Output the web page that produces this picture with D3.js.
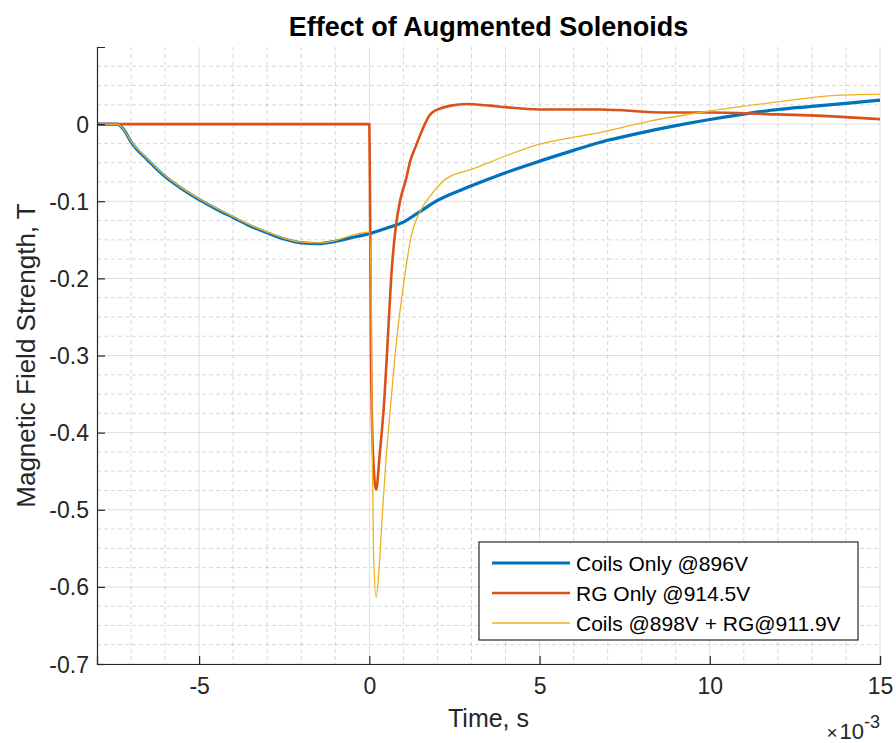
<!DOCTYPE html>
<meta charset="utf-8">
<style>
  body { margin: 0; background: #fff; }
  svg { display: block; font-family: "Liberation Sans", Arial, sans-serif; }
  .grid-major { stroke: #262626; stroke-opacity: 0.15; }
  .grid-minor { stroke: #262626; stroke-opacity: 0.18; stroke-dasharray: 4,3; }
  .curve { fill: none; stroke-linejoin: round; }
</style>
<svg width="896" height="743"></svg>
<script src="https://cdn.jsdelivr.net/npm/d3@7"></script>
<script>
  // time in ms (axis carries the x10^-3 factor), field in T
  var coilsT = [-8, -7.4, -7.2, -7.0, -6.5, -6.0, -5.5, -5.0, -4.5, -4.0, -3.5, -3.0, -2.5, -2.0, -1.5, -1.0, -0.5, 0,
    0.5, 1.0, 1.5, 2.0, 3.0, 4.0, 5.0, 6.0, 7.0, 8.0, 9.0, 10, 11, 12, 13, 14, 15];
  var coilsB = [0, 0, -0.008, -0.023, -0.047, -0.068, -0.084, -0.098, -0.110, -0.121, -0.132, -0.141, -0.149, -0.154, -0.155, -0.152, -0.147, -0.142,
    -0.135, -0.127, -0.113, -0.099, -0.080, -0.063, -0.048, -0.034, -0.021, -0.011, -0.002, 0.006, 0.013, 0.019, 0.023, 0.027, 0.031];

  var rgT = [-8, 0, 0.02, 0.05, 0.1, 0.2, 0.3, 0.44, 0.54, 0.64, 0.78, 0.9, 1.08, 1.2, 1.37, 1.57, 1.76, 1.91, 2.06, 2.4, 2.84,
    3.53, 4.0, 5.0, 6.76, 8.73, 10, 11.67, 13.6, 15];
  var rgB = [0, 0, -0.1, -0.3, -0.42, -0.474, -0.43, -0.357, -0.28, -0.2, -0.132, -0.1, -0.071, -0.048, -0.028, -0.006, 0.011, 0.017, 0.020, 0.024, 0.026,
    0.024, 0.022, 0.019, 0.019, 0.015, 0.015, 0.013, 0.010, 0.0065];

  var bothT = [-8, -7.4, -7.2, -7.0, -6.5, -6.0, -5.5, -5.0, -4.5, -4.0, -3.5, -3.0, -2.5, -2.0, -1.5, -1.0, -0.5, -0.2, 0,
    0.05, 0.08, 0.12, 0.2, 0.28, 0.39, 0.49, 0.64, 0.8, 1.03, 1.23, 1.47, 1.86, 2.25, 3.04, 4.02, 5.0, 6.0, 6.76, 8.24, 10, 11.67, 13.6, 15];
  var bothB = [0, 0, -0.008, -0.022, -0.046, -0.067, -0.083, -0.097, -0.109, -0.120, -0.131, -0.140, -0.148, -0.153, -0.154, -0.151, -0.144, -0.141, -0.140,
    -0.2, -0.4, -0.55, -0.614, -0.58, -0.5, -0.435, -0.357, -0.28, -0.2, -0.145, -0.115, -0.089, -0.071, -0.058, -0.041, -0.026, -0.017, -0.011, 0.004, 0.017, 0.027, 0.037, 0.039];

  var seriesNames = ["Coils Only @896V", "RG Only @914.5V", "Coils @898V + RG@911.9V"];
  var seriesColors = ["#0072BD", "#D95319", "#EDB120"];
  var seriesWidths = [3.2, 2.6, 1.3];

  var xMajor = [-5, 0, 5, 10, 15];
  var yMajor = [0, -0.1, -0.2, -0.3, -0.4, -0.5, -0.6, -0.7];

  var svg = d3.select("svg");
  var margin = { top: 47, right: 16, bottom: 79, left: 97 };
  var width = 896 - margin.left - margin.right;
  var height = 743 - margin.top - margin.bottom;
  var g = svg.append("g").attr("transform", "translate(" + margin.left + "," + margin.top + ")");

  var x = d3.scaleLinear().domain([-8, 15]).range([0, width]);
  var y = d3.scaleLinear().domain([-0.7, 0.1]).range([height, 0]);

  // plain hyphen minus, like the original figure
  var fmt = d3.formatLocale({ decimal: ".", thousands: ",", grouping: [3], currency: ["", ""], minus: "-" });

  // minor grid
  g.append("g").selectAll("line")
    .data(d3.range(-7, 15, 1).filter(function(d) { return d % 5 !== 0; }))
    .enter().append("line")
    .attr("class", "grid-minor")
    .attr("x1", x).attr("x2", x)
    .attr("y1", 0).attr("y2", height);
  g.append("g").selectAll("line")
    .data(d3.range(-0.675, 0.1, 0.025).filter(function(d) { return Math.abs(Math.round(d * 40) % 4) !== 0; }))
    .enter().append("line")
    .attr("class", "grid-minor")
    .attr("y1", y).attr("y2", y)
    .attr("x1", 0).attr("x2", width);

  // major grid
  g.append("g").selectAll("line")
    .data(xMajor)
    .enter().append("line")
    .attr("class", "grid-major")
    .attr("x1", x).attr("x2", x)
    .attr("y1", 0).attr("y2", height);
  g.append("g").selectAll("line")
    .data(yMajor)
    .enter().append("line")
    .attr("class", "grid-major")
    .attr("y1", y).attr("y2", y)
    .attr("x1", 0).attr("x2", width);

  // curves
  var line = d3.line()
    .x(function(d) { return x(d[0]); })
    .y(function(d) { return y(d[1]); })
    .curve(d3.curveMonotoneX);

  var series = [d3.zip(coilsT, coilsB), d3.zip(rgT, rgB), d3.zip(bothT, bothB)];
  g.append("g").selectAll("path")
    .data(series)
    .enter().append("path")
    .attr("class", "curve")
    .attr("stroke", function(d, i) { return seriesColors[i]; })
    .attr("stroke-width", function(d, i) { return seriesWidths[i]; })
    .attr("d", line);

  // axes: ticks point inward, no box
  var xAxis = d3.axisBottom(x).tickValues(xMajor).tickSize(-8).tickPadding(13).tickFormat(fmt.format("d"));
  var yAxis = d3.axisLeft(y).tickValues(yMajor).tickSize(-8).tickPadding(8)
    .tickFormat(function(d) { return d === 0 ? "0" : fmt.format(".1f")(d); });

  var gx = g.append("g").attr("transform", "translate(0," + height + ")").call(xAxis);
  var gy = g.append("g").call(yAxis);
  [gx, gy].forEach(function(a) {
    a.select(".domain").attr("stroke", "#262626").attr("stroke-width", 1.2);
    a.selectAll(".tick line").attr("stroke", "#262626").attr("stroke-width", 1.2);
    a.selectAll(".tick text").attr("fill", "#262626")
      .style("font-family", "'Liberation Sans', Arial, sans-serif").style("font-size", "23px");
  });
  gx.selectAll(".tick text").attr("dy", "0.75em");
  gy.selectAll(".tick text").attr("dy", "0.35em");

  // exponent
  var ex = svg.append("text")
    .attr("x", margin.left + width)
    .attr("y", 739)
    .attr("text-anchor", "end")
    .attr("fill", "#262626")
    .style("font-size", "22px");
  ex.append("tspan").style("font-size", "19px").text("\u00d7");
  ex.append("tspan").attr("dx", 2).text("10");
  ex.append("tspan").attr("dy", -11).style("font-size", "18px").text("-3");

  // labels
  svg.append("text")
    .attr("x", margin.left + width / 2)
    .attr("y", 36)
    .attr("text-anchor", "middle")
    .attr("fill", "#000")
    .style("font-size", "27px")
    .style("font-weight", "bold")
    .text("Effect of Augmented Solenoids");

  svg.append("text")
    .attr("x", margin.left + width / 2)
    .attr("y", 727)
    .attr("text-anchor", "middle")
    .attr("fill", "#262626")
    .style("font-size", "25px")
    .text("Time, s");

  svg.append("text")
    .attr("transform", "translate(35," + (margin.top + height / 2) + ") rotate(-90)")
    .attr("text-anchor", "middle")
    .attr("fill", "#262626")
    .style("font-size", "26px")
    .text("Magnetic Field Strength, T");

  // legend
  var leg = svg.append("g").attr("transform", "translate(479,542)");
  leg.append("rect")
    .attr("width", 379).attr("height", 98)
    .attr("fill", "#fff").attr("stroke", "#262626").attr("stroke-width", 1.2);
  var items = leg.selectAll("g.item")
    .data(seriesNames)
    .enter().append("g")
    .attr("class", "item")
    .attr("transform", function(d, i) { return "translate(0," + (21 + i * 30) + ")"; });
  items.append("line")
    .attr("x1", 13).attr("x2", 91)
    .attr("stroke", function(d, i) { return seriesColors[i]; })
    .attr("stroke-width", function(d, i) { return seriesWidths[i]; });
  items.append("text")
    .attr("x", 97).attr("dy", "0.36em")
    .attr("fill", "#000")
    .style("font-size", "21px")
    .text(function(d) { return d; });
</script>
